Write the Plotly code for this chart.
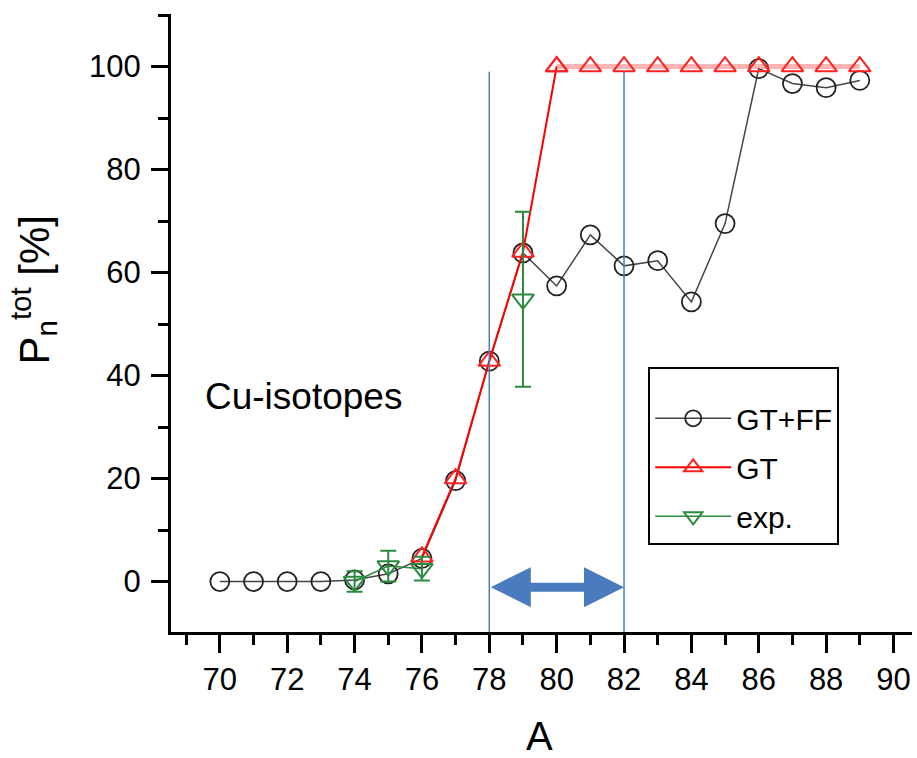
import plotly.graph_objects as go

# ---- data ----
mass_a = [70, 71, 72, 73, 74, 75, 76, 77, 78, 79, 80, 81, 82, 83, 84, 85, 86, 87, 88, 89]
pn_gtff = [0, 0, 0, 0, 0.3, 1.5, 4.5, 19.6, 42.8, 63.8, 57.4, 67.3, 61.3, 62.3, 54.3, 69.5, 99.6, 96.7, 95.9, 97.3]

gt_a = [76, 77, 78, 79, 80, 81, 82, 83, 84, 85, 86, 87, 88, 89]
pn_gt = [4.8, 20, 42.8, 64, 100, 100, 100, 100, 100, 100, 100, 100, 100, 100]

exp_a = [74, 75, 76, 77, 78, 79]
pn_exp = [0, 3, 2.5, None, None, 54.8]
pn_exp_err = [2, 3, 2.3, None, None, 17]

region_a = [78, 82]
region_top = 99
arrow_y = -1.1

x_ticks = [70, 72, 74, 76, 78, 80, 82, 84, 86, 88, 90]
y_ticks = [0, 20, 40, 60, 80, 100]

FONT = "Liberation Sans, Arial, sans-serif"
XR = [68.55, 90.55]
YR = [-9.8, 110.2]

# split GT into rising part and plateau part
split = gt_a.index(80)

GREEN = "#2a8a3e"
RED = "#ff0000"

fig = go.Figure()

fig.add_trace(go.Scatter(
    x=mass_a, y=pn_gtff, name="GT+FF", mode="lines+markers",
    line=dict(color="#444444", width=1.5),
    marker=dict(symbol="circle-open", size=19, color="#222222", line=dict(width=1.8)),
    legendgroup="a",
))
fig.add_trace(go.Scatter(
    x=gt_a[split:], y=pn_gt[split:], mode="lines+markers", showlegend=False,
    line=dict(color="rgba(255,90,90,0.45)", width=5), hoverinfo="skip",
    marker=dict(symbol="triangle-up-open", size=19, color="#ff2020", line=dict(width=2)),
    legendgroup="b",
))
fig.add_trace(go.Scatter(
    x=gt_a[:split + 1], y=pn_gt[:split + 1], name="GT", mode="lines+markers",
    line=dict(color=RED, width=2),
    marker=dict(symbol="triangle-up-open", size=19, color="#ff2020", line=dict(width=2)),
    legendgroup="b",
))
fig.add_trace(go.Scatter(
    x=exp_a, y=pn_exp, name="exp.", mode="lines+markers",
    line=dict(color=GREEN, width=1.5),
    marker=dict(symbol="triangle-down-open", size=19, color=GREEN, line=dict(width=2)),
    error_y=dict(type="data", array=pn_exp_err, visible=True, color=GREEN, thickness=2, width=8),
    connectgaps=False,
    legendgroup="c",
))

for xv in region_a:
    fig.add_shape(type="line", xref="x", yref="y", x0=xv, x1=xv, y0=YR[0], y1=region_top,
                  line=dict(color="#4a7ebb", width=1.5), layer="above")

fig.add_annotation(
    x=region_a[1], y=arrow_y, ax=region_a[0], ay=arrow_y,
    xref="x", yref="y", axref="x", ayref="y",
    text="", showarrow=True, arrowside="end+start",
    arrowhead=2, startarrowhead=2, arrowsize=0.89, startarrowsize=0.89,
    arrowwidth=9, arrowcolor="#4a7bbd", standoff=0, startstandoff=0,
)

fig.add_annotation(x=69.5, y=36, xref="x", yref="y", text="Cu-isotopes",
                   showarrow=False, xanchor="left", yanchor="middle",
                   font=dict(family=FONT, size=37, color="black"))

fig.add_annotation(x=0.497, y=-0.168, xref="paper", yref="paper", text="A",
                   showarrow=False, xanchor="center", yanchor="middle",
                   font=dict(family=FONT, size=40, color="black"))

fig.add_annotation(x=-0.186, y=0.553, xref="paper", yref="paper",
                   text="P<sub>n</sub><sup>tot</sup> [%]", textangle=-90,
                   showarrow=False, xanchor="center", yanchor="middle",
                   font=dict(family=FONT, size=42, color="black"))

fig.update_layout(
    width=917, height=758,
    margin=dict(l=171, r=5, t=14, b=126),
    paper_bgcolor="white", plot_bgcolor="white",
    font=dict(family=FONT, color="black"),
    showlegend=True,
    legend=dict(x=0.644, y=0.429, xanchor="left", yanchor="top",
                bgcolor="white", bordercolor="black", borderwidth=2,
                font=dict(family=FONT, size=30, color="black"),
                title=dict(text="\u00a0", font=dict(size=18)),
                tracegroupgap=7, traceorder="grouped", itemwidth=76),
    xaxis=dict(range=XR, showgrid=False, zeroline=False,
               showline=True, linecolor="black", linewidth=3,
               ticks="outside", ticklen=18, tickwidth=2.5, tickcolor="black",
               tickvals=x_ticks, ticklabelstandoff=0,
               tickfont=dict(family=FONT, size=31, color="black"),
               minor=dict(dtick=1, tick0=0, ticks="outside", ticklen=10, tickwidth=2.5, tickcolor="black")),
    yaxis=dict(range=YR, showgrid=False, zeroline=False,
               showline=True, linecolor="black", linewidth=3,
               ticks="outside", ticklen=17, tickwidth=2.5, tickcolor="black",
               tickvals=y_ticks, ticklabelstandoff=4,
               tickfont=dict(family=FONT, size=31, color="black"),
               minor=dict(dtick=10, tick0=0, ticks="outside", ticklen=10, tickwidth=2.5, tickcolor="black")),
)

fig.write_html("out.html")
